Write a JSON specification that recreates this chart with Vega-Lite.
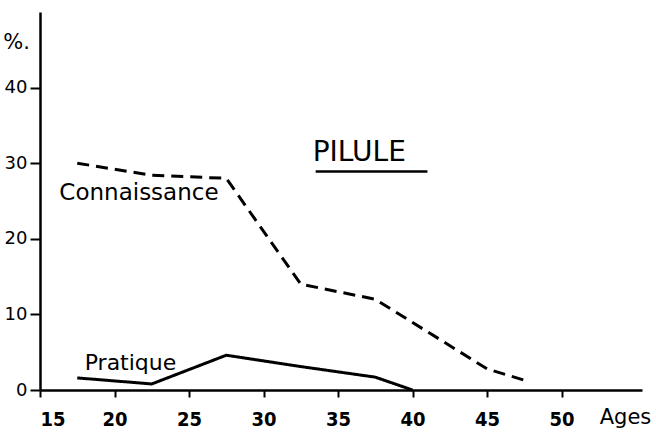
{
  "$schema": "https://vega.github.io/schema/vega-lite/v6.json",
  "width": 602,
  "height": 378,
  "autosize": "none",
  "padding": {"left": 40, "top": 12, "right": 14, "bottom": 43},
  "background": "white",
  "config": {
    "view": {"stroke": null},
    "axis": {"grid": false, "domainColor": "black", "domainWidth": 2.5, "tickColor": "black", "tickWidth": 2, "labelColor": "black", "labelFont": "DejaVu Sans", "labelFontSize": 18, "titleFont": "DejaVu Sans", "titleFontWeight": "normal", "titleColor": "black"}
  },
  "datasets": {
    "series": [
      {"age": 17.5, "pct": 30, "serie": "Connaissance"},
      {"age": 22.5, "pct": 28.4, "serie": "Connaissance"},
      {"age": 27.5, "pct": 28, "serie": "Connaissance"},
      {"age": 32.5, "pct": 14, "serie": "Connaissance"},
      {"age": 37.5, "pct": 12, "serie": "Connaissance"},
      {"age": 45, "pct": 2.8, "serie": "Connaissance"},
      {"age": 47.5, "pct": 1.3, "serie": "Connaissance"},
      {"age": 17.5, "pct": 1.6, "serie": "Pratique"},
      {"age": 22.5, "pct": 0.8, "serie": "Pratique"},
      {"age": 27.5, "pct": 4.6, "serie": "Pratique"},
      {"age": 32.5, "pct": 3.1, "serie": "Pratique"},
      {"age": 37.5, "pct": 1.7, "serie": "Pratique"},
      {"age": 40, "pct": 0, "serie": "Pratique"}
    ],
    "labels": [
      {"age": 16.3, "pct": 26.1, "text": "Connaissance", "size": 23},
      {"age": 18.0, "pct": 3.6, "text": "Pratique", "size": 22},
      {"age": 33.3, "pct": 31.3, "text": "PILULE", "size": 28}
    ],
    "underline": [
      {"age": 33.5, "age2": 41.0, "pct": 28.9}
    ]
  },
  "layer": [
    {
      "data": {"name": "series"},
      "mark": {"type": "line", "color": "black", "strokeWidth": 3, "strokeJoin": "miter"},
      "encoding": {
        "x": {"field": "age", "type": "quantitative", "scale": {"domain": [15, 55.4], "nice": false, "zero": false}, "axis": {"values": [15, 20, 25, 30, 35, 40, 45, 50], "tickSize": 7, "labelPadding": 12, "labelFontSize": 20, "labelFontWeight": "bold", "labelFont": "DejaVu Sans Condensed", "title": "Ages", "titleFontSize": 21, "titleX": 585, "titleY": 27, "titleAlign": "center", "titleBaseline": "middle"}},
        "y": {"field": "pct", "type": "quantitative", "scale": {"domain": [0, 50], "nice": false}, "axis": {"values": [0, 10, 20, 30, 40], "tickSize": 10, "labelPadding": 3, "title": "%.", "titleAngle": 0, "titleFontSize": 21, "titleX": -24, "titleY": 30, "titleAlign": "center", "titleBaseline": "middle"}},
        "detail": {"field": "serie"},
        "strokeDash": {"field": "serie", "type": "nominal", "scale": {"domain": ["Connaissance", "Pratique"], "range": [[12, 7], [1, 0]]}, "legend": null}
      }
    },
    {
      "data": {"name": "labels"},
      "mark": {"type": "text", "align": "left", "baseline": "middle", "font": "DejaVu Sans", "color": "black"},
      "encoding": {
        "x": {"field": "age", "type": "quantitative"},
        "y": {"field": "pct", "type": "quantitative"},
        "text": {"field": "text"},
        "size": {"field": "size", "type": "quantitative", "scale": null}
      }
    },
    {
      "data": {"name": "underline"},
      "mark": {"type": "rule", "color": "black", "strokeWidth": 2.5},
      "encoding": {
        "x": {"field": "age", "type": "quantitative"},
        "x2": {"field": "age2"},
        "y": {"field": "pct", "type": "quantitative"}
      }
    }
  ]
}
